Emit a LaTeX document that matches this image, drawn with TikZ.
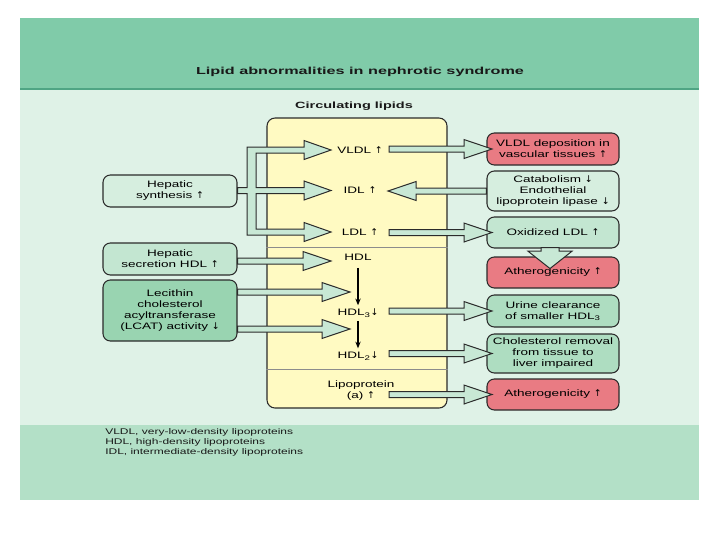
\documentclass[tikz,border=0pt]{standalone}
\usepackage{fontspec}
\setmainfont[FakeStretch=1.45]{Liberation Sans}
\newfontfamily\titlefont[FakeStretch=1.6]{Liberation Sans}
\newfontfamily\symfont{DejaVu Sans}
\usetikzlibrary{calc,arrows.meta}
\newcommand\UP{{\symfont ↑}}
\newcommand\DN{{\symfont ↓}}
\newcommand\bodysize{\fontsize{7}{8.3}\selectfont}
\definecolor{topband}{HTML}{80CBA9}
\definecolor{topline}{HTML}{4FA584}
\definecolor{midbg}{HTML}{DFF2E7}
\definecolor{botband}{HTML}{B3E0C7}
\definecolor{yel}{HTML}{FFFAC2}
\definecolor{redbox}{HTML}{E97B83}
\definecolor{gA}{HTML}{D6EEDF}
\definecolor{gB}{HTML}{C3E6D1}
\definecolor{gC}{HTML}{99D4B1}
\definecolor{gD}{HTML}{AEDDC1}
\definecolor{arrowfill}{HTML}{C8E8D5}
\definecolor{edge}{HTML}{2B2B2B}
\tikzset{
  box/.style={draw=edge, line width=0.8pt, rounded corners=5.5pt, align=center, inner sep=1pt, text=black, font=\bodysize},
  lbox/.style={box, minimum width=100.5pt},
  rbox/.style={box, minimum width=99pt},
  lbl/.style={inner sep=1.5pt, font=\bodysize, align=center, text=black},
  blockarrow/.style={fill=arrowfill, draw=edge, line width=0.75pt, line join=miter},
}
% block arrow from #1 (tail) to #2 (tip); #3 shaft half width, #4 head half width, #5 head length
\newcommand\barrowx[5]{%
  \coordinate (hb) at ($(#2)!#5!(#1)$);
  \draw[blockarrow] ($(#1)!#3!90:(#2)$) -- ($(hb)!#3!90:(#2)$) -- ($(hb)!#4!90:(#2)$) -- (#2)
    -- ($(hb)!#4!-90:(#2)$) -- ($(hb)!#3!-90:(#2)$) -- ($(#1)!#3!-90:(#2)$) -- cycle;}
\newcommand\barrow[2]{\barrowx{#1}{#2}{2.25pt}{7.1pt}{21pt}}
\begin{document}
\begin{tikzpicture}[x=0.75pt,y=-0.75pt]
\useasboundingbox (0,0) rectangle (720,540);
\fill[white] (0,0) rectangle (720,540);
\fill[topband] (20,18) rectangle (699,88);
\fill[midbg] (20,90) rectangle (699,425);
\fill[botband] (20,425) rectangle (699,500);
\draw[topline, line width=1.5pt] (20,89) -- (699,89);

\node[font=\titlefont\bfseries\fontsize{7.6}{9}\selectfont, text=black!90] (title) at (360,72) {Lipid abnormalities in nephrotic syndrome};
\node[font=\titlefont\bfseries\fontsize{6.8}{8}\selectfont, text=black!90] (circ) at (354,106) {Circulating lipids};

% central column
\node[draw=edge, fill=yel, rounded corners=6pt, minimum width=135pt, minimum height=217.5pt, line width=0.8pt] (col) at (357,263) {};
\coordinate (s1) at (0,247);
\coordinate (s2) at (0,369);
\draw[black!45, line width=0.5pt] (col.west |- s1) -- (col.east |- s1);
\draw[black!45, line width=0.5pt] (col.west |- s2) -- (col.east |- s2);

% left boxes
\node[lbox, fill=gA, minimum height=24pt] (hsyn) at (170,191) {Hepatic\\synthesis \UP};
\node[lbox, fill=gB, minimum height=24pt] (hsec) at (170,259) {Hepatic\\secretion HDL \UP};
\node[lbox, fill=gC, minimum height=45.75pt] (lcat) at (170,310.5) {Lecithin\\cholesterol\\acyltransferase\\(LCAT) activity \DN};

% right boxes
\node[rbox, fill=redbox, minimum height=24pt] (dep) at (553,149) {VLDL deposition in\\vascular tissues \UP};
\node[rbox, fill=gA, minimum height=30pt] (cat) at (553,191) {Catabolism \DN\\Endothelial\\lipoprotein lipase \DN};
\node[rbox, fill=gB, minimum height=23.25pt] (oxl) at (553,232.5) {Oxidized LDL \UP};
\node[rbox, fill=redbox, minimum height=23.25pt] (ath1) at (553,272.5) {Atherogenicity \UP};
\node[rbox, fill=gD, minimum height=24pt] (urine) at (553,311) {Urine clearance\\of smaller HDL\textsubscript{3}};
\node[rbox, fill=gD, minimum height=29.25pt] (chol) at (553,353.5) {Cholesterol removal\\from tissue to\\liver impaired};
\node[rbox, fill=redbox, minimum height=23.25pt] (ath2) at (553,394.5) {Atherogenicity \UP};

% central labels
\node[lbl] (vldl) at (360,150) {VLDL \UP};
\node[lbl] (idl) at (360,190) {IDL \UP};
\node[lbl] (ldl) at (360,232) {LDL \UP};
\node[lbl] (hdl) at (358,257) {HDL};
\node[lbl] (hdl3) at (358,313) {HDL\textsubscript{3}\DN};
\node[lbl] (hdl2) at (358,356) {HDL\textsubscript{2}\DN};
\node[lbl] (lpa) at (361,391) {Lipoprotein\\(a) \UP};

% comb arrow from hepatic synthesis to VLDL, IDL, LDL
\draw[blockarrow] (hsyn.east |- 0,187.5) -- (247,187.5) -- (247,147) -- (304,147) -- (304,140.5) -- (331,150)
  -- (304,159.5) -- (304,153) -- (256,153) -- (256,187.5) -- (304,187.5) -- (304,181) -- (331,190.5)
  -- (304,200) -- (304,193.5) -- (256,193.5) -- (256,229) -- (304,229) -- (304,222.5) -- (331,232)
  -- (304,241.5) -- (304,235) -- (247,235) -- (247,193.5) -- (hsyn.east |- 0,193.5) -- cycle;

% coordinates for arrow ends
\coordinate (lx) at (331,0);
\coordinate (lx2) at (350,0);
\coordinate (rx) at (389,0);
\coordinate (tx) at (492,0);
\coordinate (ix) at (388,0);

% hepatic secretion -> HDL
\coordinate (hsecA) at ($(hsec.east)+(0,2)$);
\coordinate (hsecT) at (lx |- hsecA);
\barrow{hsecA}{hsecT}
% LCAT -> HDL3, HDL2
\coordinate (lcA) at ($(lcat.east)+(0,-18.5)$);
\coordinate (lcAT) at (lx2 |- lcA);
\coordinate (lcB) at ($(lcat.east)+(0,18.5)$);
\coordinate (lcBT) at (lx2 |- lcB);
\barrow{lcA}{lcAT}
\barrow{lcB}{lcBT}

% right arrows
\coordinate (a1) at (rx |- dep.west);  \coordinate (b1) at (tx |- dep.west);  \barrow{a1}{b1}
\coordinate (b2) at (ix |- cat.west);  \barrow{cat.west}{b2}
\coordinate (a3) at (rx |- oxl.west);  \coordinate (b3) at (tx |- oxl.west);  \barrow{a3}{b3}
\coordinate (a4) at (rx |- urine.west); \coordinate (b4) at (tx |- urine.west); \barrow{a4}{b4}
\coordinate (a5) at (rx |- chol.west); \coordinate (b5) at (tx |- chol.west); \barrow{a5}{b5}
\coordinate (a6) at (rx |- ath2.west); \coordinate (b6) at (tx |- ath2.west); \barrow{a6}{b6}
% oxidized LDL -> atherogenicity (down)
\coordinate (dA) at ($(oxl.south)+(-3,-1)$);
\coordinate (dB) at ($(oxl.south)+(-3,20)$);
\barrowx{dA}{dB}{6.75pt}{16.5pt}{13pt}

% HDL -> HDL3 -> HDL2
\draw[-{Stealth[length=5pt,width=4pt]}, line width=1pt, shorten <=4pt, shorten >=1pt] (hdl.south) -- (hdl3.north);
\draw[-{Stealth[length=5pt,width=4pt]}, line width=1pt, shorten <=1pt, shorten >=1pt] (hdl3.south) -- (hdl2.north);

% footnote
\node[anchor=north west, align=left, font=\fontsize{6.2}{7.5}\selectfont, inner sep=0, text=black!90] (foot) at (105,428)
  {VLDL, very-low-density lipoproteins\\HDL, high-density lipoproteins\\IDL, intermediate-density lipoproteins};
\end{tikzpicture}
\end{document}
